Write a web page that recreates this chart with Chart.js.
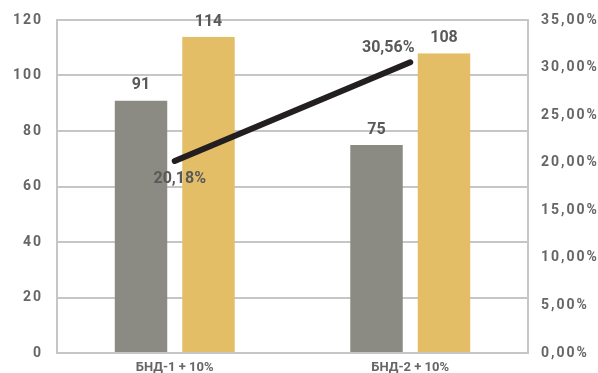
<!DOCTYPE html>
<html>
<head>
<meta charset="utf-8">
<script src="https://cdn.jsdelivr.net/npm/chart.js@4"></script>
<style>
  html, body { margin: 0; padding: 0; background: #fff; }
  #wrap { width: 598px; height: 373px; }
</style>
</head>
<body>
<div id="wrap"><canvas id="chart"></canvas></div>
<script>
// === DATOS ===
const categorias = ["БНД-1 + 10%", "БНД-2 + 10%"];
const serieGris = [91, 75];
const serieAmarilla = [114, 108];
const serieLinea = [20.18, 30.56];
const etiquetasLinea = ["20,18%", "30,56%"];

const colorTexto = "#666666";
const colorValores = "#595959";

// === ETIQUETAS SOBRE LAS BARRAS Y LA LÍNEA ===
const etiquetasPlugin = {
    id: "etiquetas",
    afterDatasetsDraw(chart) {
        const ctx = chart.ctx;
        ctx.save();
        ctx.letterSpacing = "0px";
        ctx.font = "bold 16px Roboto";
        ctx.fillStyle = colorValores;
        ctx.textAlign = "center";
        ctx.textBaseline = "bottom";
        [0, 1].forEach(i => {
            chart.getDatasetMeta(i).data.forEach((bar, j) => {
                const valor = chart.data.datasets[i].data[j];
                ctx.fillText(String(valor), bar.x, bar.y - 7);
            });
        });
        const meta = chart.getDatasetMeta(2);
        meta.data.forEach((p, j) => {
            if (j === 0) {
                ctx.textBaseline = "top";
                ctx.fillText(etiquetasLinea[j], p.x + 5, p.y + 10);
            } else {
                ctx.textBaseline = "bottom";
                ctx.fillText(etiquetasLinea[j], p.x - 22, p.y - 6);
            }
        });
        ctx.restore();
    }
};

// espaciado de letras: el eje x sin espaciado, los ejes y con espaciado
function colorX(c) {
    c.chart.ctx.letterSpacing = "0px";
    return colorTexto;
}
function colorY(c) {
    c.chart.ctx.letterSpacing = "2px";
    return colorTexto;
}

function ajustarY(ancho) {
    return function(scale) {
        scale.width = ancho;
        scale.paddingTop = 0;
        scale.paddingBottom = 0;
    };
}

// === GRÁFICO ===
const ctx = document.getElementById("chart").getContext("2d");
new Chart(ctx, {
    data: {
        labels: categorias,
        datasets: [
            {
                type: "bar",
                data: serieGris,
                backgroundColor: "#8b8b84",
                borderColor: "rgba(0,0,0,0)",
                borderWidth: { left: 7.5, right: 7.5, top: 0, bottom: 0 },
                borderSkipped: false,
                categoryPercentage: 0.573,
                barPercentage: 1,
                yAxisID: "y",
                order: 2
            },
            {
                type: "bar",
                data: serieAmarilla,
                backgroundColor: "#e4be67",
                borderColor: "rgba(0,0,0,0)",
                borderWidth: { left: 7.5, right: 7.5, top: 0, bottom: 0 },
                borderSkipped: false,
                categoryPercentage: 0.573,
                barPercentage: 1,
                yAxisID: "y",
                order: 2
            },
            {
                type: "line",
                data: serieLinea,
                borderColor: "#231f20",
                borderWidth: 6,
                borderCapStyle: "round",
                pointRadius: 0,
                yAxisID: "y1",
                order: 1
            }
        ]
    },
    options: {
        responsive: true,
        maintainAspectRatio: false,
        animation: false,
        layout: { padding: { top: 20, left: 0, right: 0, bottom: 0 } },
        plugins: {
            legend: { display: false },
            tooltip: { enabled: false }
        },
        scales: {
            x: {
                grid: { display: false, drawTicks: false },
                border: { color: "#c6c6c6", width: 2 },
                ticks: {
                    color: colorX,
                    font: { family: "Roboto", size: 13, weight: "bold" },
                    padding: 7
                },
                afterFit(scale) { scale.height = 20; }
            },
            y: {
                position: "left",
                min: 0,
                max: 120,
                grid: { color: "#c6c6c6", lineWidth: 2, drawTicks: false },
                border: { color: "#c6c6c6", width: 2 },
                ticks: {
                    stepSize: 20,
                    color: colorY,
                    font: { family: "Roboto", size: 14, weight: "bold" },
                    padding: 14
                },
                afterFit: ajustarY(57)
            },
            y1: {
                position: "right",
                min: 0,
                max: 35,
                grid: { display: false, drawTicks: false },
                border: { color: "#c6c6c6", width: 2 },
                ticks: {
                    stepSize: 5,
                    color: colorY,
                    font: { family: "Roboto", size: 14, weight: "bold" },
                    padding: 13,
                    callback: v => v.toFixed(2).replace(".", ",") + "%"
                },
                afterFit: ajustarY(70)
            }
        }
    },
    plugins: [etiquetasPlugin]
});
</script>
</body>
</html>
